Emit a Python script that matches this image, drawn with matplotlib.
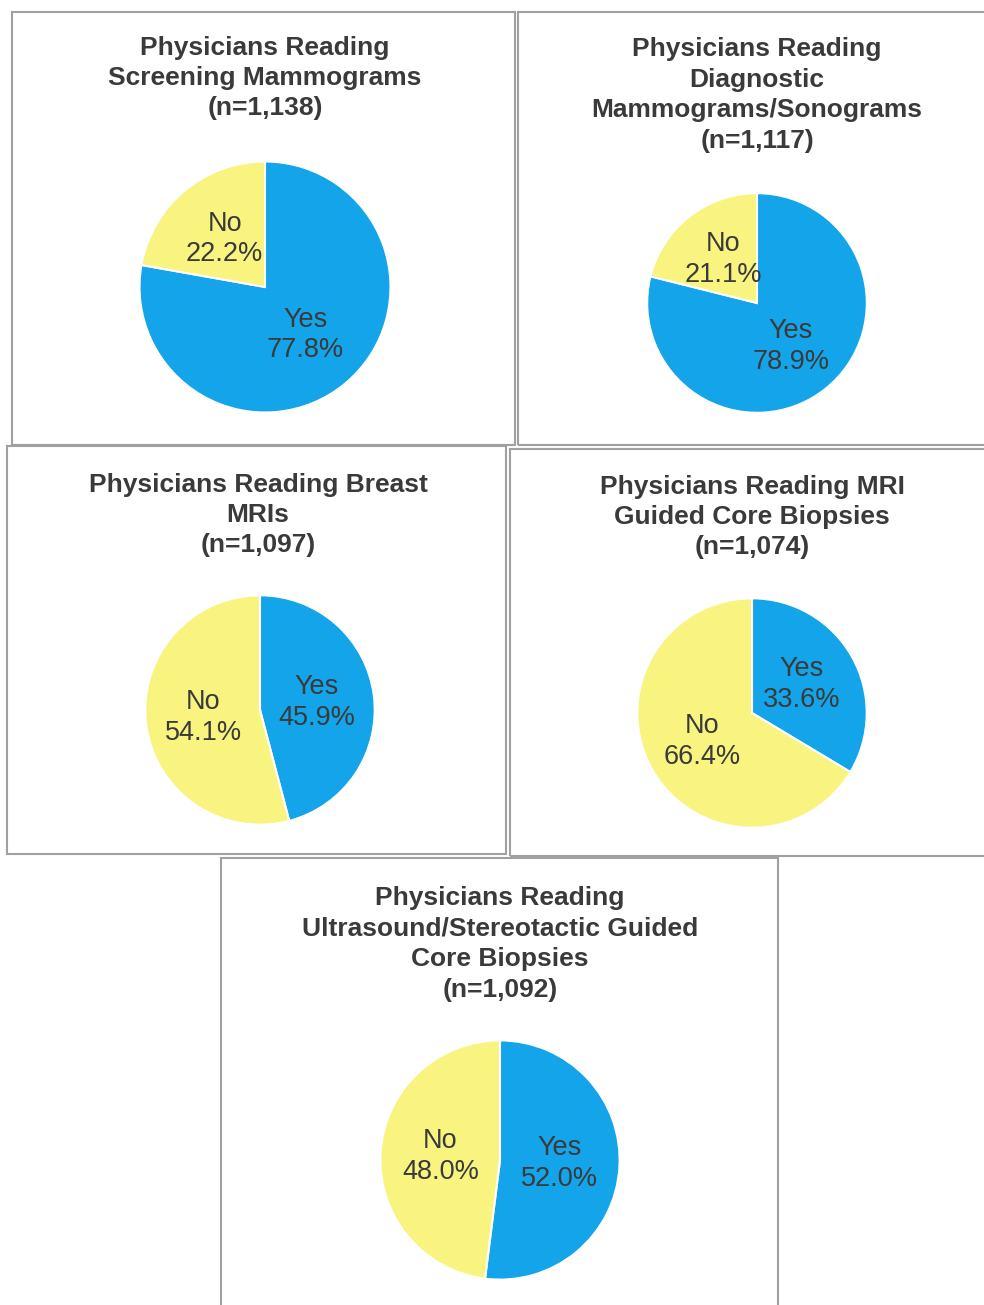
import matplotlib.pyplot as plt
from matplotlib.patches import Rectangle

plt.rcParams['font.family'] = ['Liberation Sans', 'DejaVu Sans']

# chart data
titles = [
    "Physicians Reading\nScreening Mammograms\n(n=1,138)",
    "Physicians Reading\nDiagnostic\nMammograms/Sonograms\n(n=1,117)",
    "Physicians Reading Breast\nMRIs\n(n=1,097)",
    "Physicians Reading MRI\nGuided Core Biopsies\n(n=1,074)",
    "Physicians Reading\nUltrasound/Stereotactic Guided\nCore Biopsies\n(n=1,092)",
]
answers = ["Yes", "No"]
yes_pct = [77.8, 78.9, 45.9, 33.6, 52.0]
no_pct = [22.2, 21.1, 54.1, 66.4, 48.0]

colors = ["#14a4e9", "#f8f47f"]
text_color = "#3a3a3a"

W, H = 984, 1305

# layout in pixels: panel box (x0, y0, x1, y1), pie centre + radius, title centre
panels = [(12, 12, 515, 445), (518, 12, 990, 445), (7, 446, 506, 854),
          (510, 449, 990, 856), (221, 858, 778, 1310)]
pie_pos = [(265, 287, 128), (757, 303, 112), (260, 710, 117),
           (752, 713, 117), (500, 1160, 122)]
title_pos = [(265, 78), (757, 95), (258, 515), (752, 517), (500, 944)]

fig = plt.figure(figsize=(W / 100, H / 100), dpi=100)

for i in range(len(titles)):
    x0, y0, x1, y1 = panels[i]
    fig.patches.append(Rectangle((x0 / W, 1 - y1 / H), (x1 - x0) / W, (y1 - y0) / H,
                                 transform=fig.transFigure, fill=False,
                                 edgecolor="#a0a0a0", linewidth=1.5))

    tx, ty = title_pos[i]
    fig.text(tx / W, 1 - ty / H, titles[i], ha="center", va="center",
             fontsize=19, fontweight="bold", color=text_color, linespacing=1.34)

    cx, cy, r = pie_pos[i]
    ax = fig.add_axes([(cx - r) / W, 1 - (cy + r) / H, 2 * r / W, 2 * r / H])
    wedges, texts, autotexts = ax.pie(
        [yes_pct[i], no_pct[i]], colors=colors, startangle=90, counterclock=False,
        autopct="%1.1f%%", pctdistance=0.5,
        wedgeprops=dict(edgecolor="white", linewidth=1.5))
    for lab, t in zip(answers, autotexts):
        t.set_text(lab + "\n" + t.get_text())
        t.set_fontsize(19.5)
        t.set_color(text_color)
        t.set_linespacing(1.24)
    ax.set_xlim(-1.02, 1.02)
    ax.set_ylim(-1.02, 1.02)
    ax.axis("off")

fig.savefig("out.png", dpi=100, facecolor="white")
